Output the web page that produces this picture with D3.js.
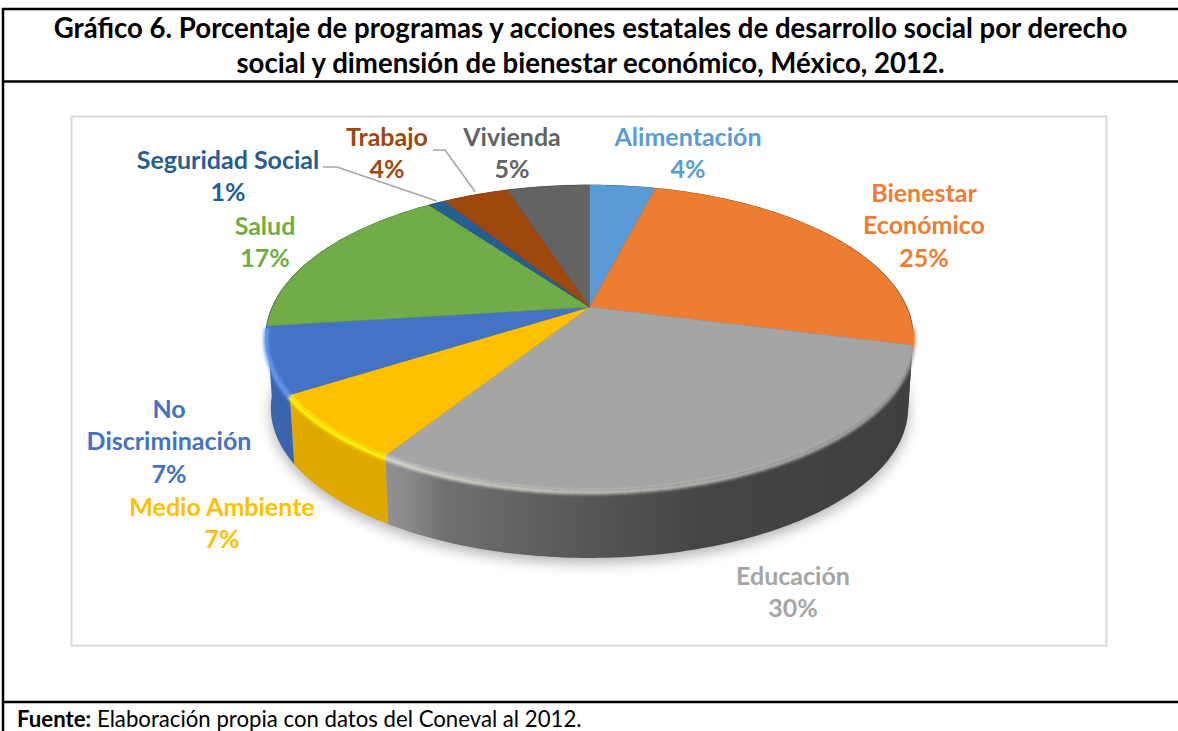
<!DOCTYPE html>
<html lang="es">
<head>
<meta charset="utf-8">
<title>Gráfico 6</title>
<script src="https://cdn.jsdelivr.net/npm/d3@7"></script>
<style>
  html, body { margin: 0; padding: 0; background: #fff; }
  svg { display: block; }
  text { font-family: Lato, "Open Sans", sans-serif; }
</style>
</head>
<body>
<div id="chart"></div>
<script>
// Programas y acciones estatales por derecho social, 2012 (porcentaje)
const categories = ["Alimentación", "Bienestar Económico", "Educación", "Medio Ambiente",
  "No Discriminación", "Salud", "Seguridad Social", "Trabajo", "Vivienda"];
const values = [4, 25, 30, 7, 7, 17, 1, 4, 5];
const sliceColors = ["#5B9BD5", "#ED7D31", "#A5A5A5", "#FFC000", "#4472C4",
  "#70AD47", "#255E91", "#9E480E", "#636363"];
const titleLines = [
  "Gráfico 6. Porcentaje de programas y acciones estatales de desarrollo social por derecho",
  "social y dimensión de bienestar económico, México, 2012."
];
const sourceLabel = "Fuente:";
const sourceText = " Elaboración propia con datos del Coneval al 2012.";

const width = 1178, height = 731;

// Label placement: centre x, first-line centre y, wrapped lines
const labelLayout = [
  { x: 688, y: 137, lines: ["Alimentación"] },
  { x: 924, y: 193, lines: ["Bienestar", "Económico"] },
  { x: 793, y: 576, lines: ["Educación"] },
  { x: 222, y: 507, lines: ["Medio Ambiente"] },
  { x: 169, y: 409, lines: ["No", "Discriminación"] },
  { x: 265, y: 226, lines: ["Salud"] },
  { x: 228, y: 160, lines: ["Seguridad Social"] },
  { x: 387, y: 137, lines: ["Trabajo"] },
  { x: 512, y: 137, lines: ["Vivienda"] }
];

const svg = d3.select("#chart").append("svg")
  .attr("width", width).attr("height", height);
const defs = svg.append("defs");
[["soft", 1.8], ["shadow", 7], ["halo", 0.7]].forEach(([id, dev]) => {
  defs.append("filter").attr("id", id)
    .attr("x", "-10%").attr("y", "-10%").attr("width", "120%").attr("height", "120%")
    .append("feGaussianBlur").attr("stdDeviation", dev);
});

// Page frame: open on the right edge
svg.append("rect").attr("width", width).attr("height", height).attr("fill", "#fff");
const frame = svg.append("g").attr("stroke", "#000").attr("stroke-width", 2.5);
frame.append("line").attr("x1", 2).attr("x2", width).attr("y1", 9).attr("y2", 9);
frame.append("line").attr("x1", 2).attr("x2", width).attr("y1", 81.5).attr("y2", 81.5);
frame.append("line").attr("x1", 2).attr("x2", width).attr("y1", 702).attr("y2", 702);
frame.append("line").attr("x1", 3).attr("x2", 3).attr("y1", 8).attr("y2", height);

// Chart area border
svg.append("rect").attr("x", 71.5).attr("y", 116.5).attr("width", 1035).attr("height", 529)
  .attr("fill", "#fff").attr("stroke", "#d9d9d9").attr("stroke-width", 2);

// Title and source note
titleLines.forEach((line, i) => {
  svg.append("text").attr("x", 590.5).attr("y", 38 + i * 34.5)
    .attr("text-anchor", "middle").attr("font-size", 27.6).attr("font-weight", 700)
    .attr("fill", "#000").text(line);
});
const note = svg.append("text").attr("x", 17).attr("y", 727).attr("font-size", 22.2).attr("fill", "#000");
note.append("tspan").attr("font-weight", 700).text(sourceLabel);
note.append("tspan").text(sourceText);

// Perspective projection of the unit disc onto the tilted pie top
const apex = { x: 589.5, y: 307 };
const tilt = 0.2, spanX = 317, spanY = 146.4, depth = 70.7, taper = 0.985;
const project = (a, inset = 1, drop = 0) => {
  const u = Math.sin(a), v = -Math.cos(a), w = 1 - tilt * v;
  return [apex.x + inset * spanX * u / w, apex.y + inset * spanY * v / w + drop];
};
const rimSteps = (start, end) => d3.range(0, 1.0001, 1 / Math.max(2, Math.ceil((end - start) * 60)))
  .map(t => start + (end - start) * t);

const slices = d3.pie().value(d => d).sort(null)(values);
const line = d3.line();

// Wall brightness falls off from the lit left side to the dark right side
const wallStops = [[385, 0.88], [405, 0.84], [445, 0.68], [590, 0.52], [700, 0.42], [900, 0.38]];
const glowShade = d3.scaleLinear().domain([385, 590, 820, 900]).range([1, 0.55, 0.12, 0]).clamp(true);
const gradientX = d3.scaleLinear().domain([0, width]).range([0, 1]);

// Soft ground shadow under the pie
svg.append("path")
  .attr("d", line(rimSteps(0, 2 * Math.PI).map(a => project(a, taper, depth + 5))) + "Z")
  .attr("fill", "#000").attr("opacity", 0.3).attr("filter", "url(#shadow)");

// Outer wall: one shaded band per slice, only along the front of the rim
const walls = svg.append("g");
slices.forEach((s, i) => {
  const base = d3.rgb(sliceColors[i]);
  const steps = rimSteps(s.startAngle, s.endAngle).filter(a => Math.cos(a) < -0.12);
  if (steps.length < 2) return;
  const grad = defs.append("linearGradient").attr("id", `wall-${i}`)
    .attr("gradientUnits", "userSpaceOnUse")
    .attr("x1", 0).attr("x2", width).attr("y1", 0).attr("y2", 0);
  [[0, 0.88], ...wallStops, [width, 0.38]].forEach(([x, k]) => {
    grad.append("stop").attr("offset", gradientX(x))
      .attr("stop-color", d3.rgb(base.r * k, base.g * k, base.b * k).formatHex());
  });
  const outline = [...steps.map(a => project(a)), ...steps.slice().reverse().map(a => project(a, taper, depth))];
  walls.append("path").attr("d", line(outline) + "Z").attr("fill", `url(#wall-${i})`);
});

// Thin dark edge behind the top face
svg.append("path")
  .attr("d", line(rimSteps(0, 2 * Math.PI).map(a => project(a, 1.002))) + "Z")
  .attr("fill", "#222").attr("filter", "url(#halo)");

// Top face of every slice, converging on the apex
svg.append("g").selectAll("path").data(slices).join("path")
  .attr("d", s => line([[apex.x, apex.y], ...rimSteps(s.startAngle, s.endAngle).map(a => project(a))]) + "Z")
  .attr("fill", (s, i) => sliceColors[i])
  .attr("stroke", (s, i) => sliceColors[i]).attr("stroke-width", 0.5);

// Bevel highlight along the front rim
const bevel = svg.append("g").attr("filter", "url(#soft)").attr("fill", "none")
  .attr("stroke-width", 5).attr("stroke-linecap", "butt");
slices.forEach((s, i) => {
  const base = d3.rgb(sliceColors[i]);
  const lit = d3.rgb(Math.min(255, base.r * 1.2 + 20), Math.min(255, base.g * 1.2 + 20), Math.min(255, base.b * 1.2 + 10));
  const mix = d3.interpolateRgb(base, lit);
  d3.pairs(rimSteps(s.startAngle, s.endAngle)).forEach(([a0, a1]) => {
    if (Math.cos((a0 + a1) / 2) > -0.13) return;
    const p0 = project(a0, 1, 2), p1 = project(a1, 1, 2);
    bevel.append("path").attr("d", line([p0, p1]))
      .attr("stroke", mix(glowShade((p0[0] + p1[0]) / 2)));
  });
});

// Category labels with their percentages
const labels = svg.append("g").attr("font-size", 25).attr("font-weight", 700).attr("text-anchor", "middle");
labelLayout.forEach((lab, i) => {
  const color = sliceColors[i];
  const rows = [...lab.lines, `${values[i]}%`];
  rows.forEach((row, r) => {
    labels.append("text").attr("x", lab.x).attr("y", lab.y + r * 32.7)
      .attr("dy", "0.35em").attr("fill", color).text(row);
  });
});

// Leader lines for the two labels sitting away from their slices
const leaders = svg.append("g").attr("fill", "none").attr("stroke", "#a6a6a6").attr("stroke-width", 1.6);
const midAngle = s => (s.startAngle + s.endAngle) / 2;
leaders.append("path").attr("d", line([[323, 167], [337, 167], project(midAngle(slices[6]), 1, -2)]));
leaders.append("path").attr("d", line([[433, 150], [445, 150], project(midAngle(slices[7]), 1, -3)]));
</script>
</body>
</html>
